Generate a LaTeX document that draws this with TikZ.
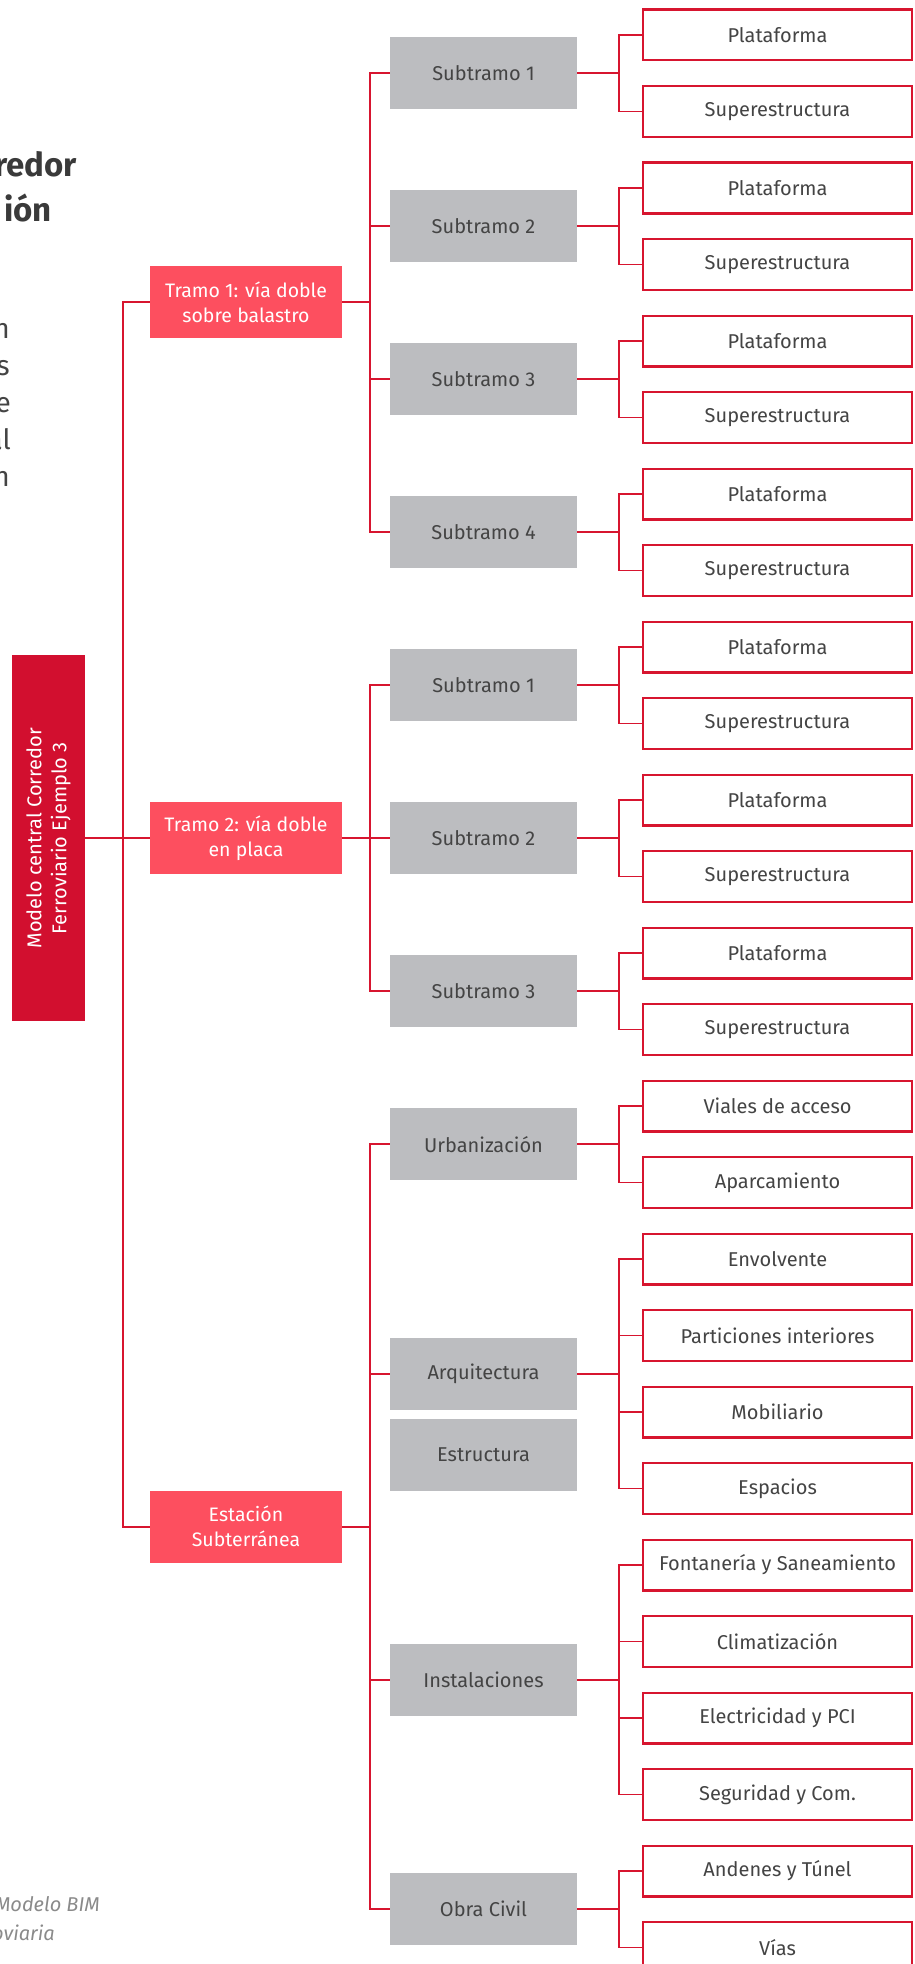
\documentclass[tikz,border=0pt]{standalone}
\usepackage{fontspec}
\setmainfont{Fira Sans}
\definecolor{rootred}{HTML}{D20F2F}
\definecolor{tramored}{HTML}{FD4F5F}
\definecolor{boxgray}{HTML}{BCBDC0}
\definecolor{linered}{HTML}{D7152F}
\definecolor{textgray}{HTML}{444444}
\definecolor{titlegray}{HTML}{3A3A3A}
\definecolor{notegray}{HTML}{8A8A8A}

\begin{document}
\begin{tikzpicture}[x=1pt, y=-1pt,
    base/.style={inner sep=0pt, align=center, font=\fontsize{20}{25}\selectfont},
    rootbox/.style={base, fill=rootred, text=white, minimum width=366pt, minimum height=73pt, rotate=90,
                    font=\fontsize{20}{25}\selectfont},
    tramo/.style={base, fill=tramored, text=white, minimum width=192pt, minimum height=72pt,
                  font=\fontsize{19.5}{25}\selectfont},
    sub/.style={base, fill=boxgray, text=textgray, minimum width=187pt, minimum height=72pt},
    leaf/.style={base, draw=linered, line width=2.4pt, fill=white, text=textgray,
                 minimum width=268.6pt, minimum height=50.6pt},
    link/.style={draw=linered, line width=1.8pt},
    frag/.style={inner sep=0pt, anchor=base east}
  ]
    \useasboundingbox (0,0) rectangle (914,1964);
    \clip (0,0) rectangle (914,1964);

    % Cut-off page text
    \node[frag, font=\fontsize{33}{40}\selectfont\bfseries, text=titlegray] (title1) at (77,177) {redor};
    \node[frag, font=\fontsize{33}{40}\selectfont\bfseries, text=titlegray] (title2) at (52,222) {ión};
    \node[frag, font=\fontsize{28}{34}\selectfont, text=textgray] (par1) at (10,338) {n};
    \node[frag, font=\fontsize{28}{34}\selectfont, text=textgray] (par2) at (10,375) {s};
    \node[frag, font=\fontsize{28}{34}\selectfont, text=textgray] (par3) at (11,412) {e};
    \node[frag, font=\fontsize{28}{34}\selectfont, text=textgray] (par4) at (11,449) {al};
    \node[frag, font=\fontsize{28}{34}\selectfont, text=textgray] (par5) at (10,486) {n};
    \node[frag, font=\fontsize{20}{24}\selectfont\itshape, text=notegray] (note1) at (100,1911) {Modelo BIM};
    \node[frag, font=\fontsize{20}{24}\selectfont\itshape, text=notegray] (note2) at (55,1940) {oviaria};

    % Root
    \node[rootbox] (root) at (48.5,838.25) {Modelo central Corredor\\Ferroviario Ejemplo 3};

    % Tramos
    \node[tramo] (t1) at (246,302) {Tramo 1: vía doble\\sobre balastro};
    \node[tramo] (t2) at (246,838.25) {Tramo 2: vía doble\\en placa};
    \node[tramo] (t3) at (246,1526.75) {Estación\\Subterránea};

    % Subtramos
    \node[sub] (s11) at (483.5,73.25) {Subtramo 1};
    \node[sub] (s12) at (483.5,226.25) {Subtramo 2};
    \node[sub] (s13) at (483.5,379.25) {Subtramo 3};
    \node[sub] (s14) at (483.5,532.25) {Subtramo 4};
    \node[sub] (s21) at (483.5,685.25) {Subtramo 1};
    \node[sub] (s22) at (483.5,838.25) {Subtramo 2};
    \node[sub] (s23) at (483.5,991.25) {Subtramo 3};

    % Station parts
    \node[sub] (urb) at (483.5,1144.25) {Urbanización};
    \node[sub] (arq) at (483.5,1373.75) {Arquitectura};
    \node[sub] (est) at (483.5,1455) {Estructura};
    \node[sub] (inst) at (483.5,1679.75) {Instalaciones};
    \node[sub] (obra) at (483.5,1909.25) {Obra Civil};

    % Leaves
    \node[leaf] (l1) at (777.5,35) {Plataforma};
    \node[leaf] (l2) at (777.5,111.5) {Superestructura};
    \node[leaf] (l3) at (777.5,188) {Plataforma};
    \node[leaf] (l4) at (777.5,264.5) {Superestructura};
    \node[leaf] (l5) at (777.5,341) {Plataforma};
    \node[leaf] (l6) at (777.5,417.5) {Superestructura};
    \node[leaf] (l7) at (777.5,494) {Plataforma};
    \node[leaf] (l8) at (777.5,570.5) {Superestructura};
    \node[leaf] (l9) at (777.5,647) {Plataforma};
    \node[leaf] (l10) at (777.5,723.5) {Superestructura};
    \node[leaf] (l11) at (777.5,800) {Plataforma};
    \node[leaf] (l12) at (777.5,876.5) {Superestructura};
    \node[leaf] (l13) at (777.5,953) {Plataforma};
    \node[leaf] (l14) at (777.5,1029.5) {Superestructura};
    \node[leaf] (l15) at (777.5,1106) {Viales de acceso};
    \node[leaf] (l16) at (777.5,1182.5) {Aparcamiento};
    \node[leaf] (l17) at (777.5,1259) {Envolvente};
    \node[leaf] (l18) at (777.5,1335.5) {Particiones interiores};
    \node[leaf] (l19) at (777.5,1412) {Mobiliario};
    \node[leaf] (l20) at (777.5,1488.5) {Espacios};
    \node[leaf] (l21) at (777.5,1565) {Fontanería y Saneamiento};
    \node[leaf] (l22) at (777.5,1641.5) {Climatización};
    \node[leaf] (l23) at (777.5,1718) {Electricidad y PCI};
    \node[leaf] (l24) at (777.5,1794.5) {Seguridad y Com.};
    \node[leaf] (l25) at (777.5,1871) {Andenes y Túnel};
    \node[leaf] (l26) at (777.5,1947.5) {Vías};

    % Root links
    \draw[link] (root.south) -- ++(38,0) |- (t1.west);
    \draw[link] (root.south) -- (t2.west);
    \draw[link] (root.south) -- ++(38,0) |- (t3.west);

    % Tramo links
    \draw[link] (t1.east) -- ++(28,0) |- (s11.west);
    \draw[link] (t1.east) -- ++(28,0) |- (s12.west);
    \draw[link] (t1.east) -- ++(28,0) |- (s13.west);
    \draw[link] (t1.east) -- ++(28,0) |- (s14.west);
    \draw[link] (t2.east) -- ++(28,0) |- (s21.west);
    \draw[link] (t2.east) -- (s22.west);
    \draw[link] (t2.east) -- ++(28,0) |- (s23.west);
    \draw[link] (t3.east) -- ++(28,0) |- (urb.west);
    \draw[link] (t3.east) -- ++(28,0) |- (arq.west);
    \draw[link] (t3.east) -- ++(28,0) |- (inst.west);
    \draw[link] (t3.east) -- ++(28,0) |- (obra.west);

    % Leaf links
    \draw[link] (s11.east) -- ++(42,0) |- (l1.west);
    \draw[link] (s11.east) -- ++(42,0) |- (l2.west);
    \draw[link] (s12.east) -- ++(42,0) |- (l3.west);
    \draw[link] (s12.east) -- ++(42,0) |- (l4.west);
    \draw[link] (s13.east) -- ++(42,0) |- (l5.west);
    \draw[link] (s13.east) -- ++(42,0) |- (l6.west);
    \draw[link] (s14.east) -- ++(42,0) |- (l7.west);
    \draw[link] (s14.east) -- ++(42,0) |- (l8.west);
    \draw[link] (s21.east) -- ++(42,0) |- (l9.west);
    \draw[link] (s21.east) -- ++(42,0) |- (l10.west);
    \draw[link] (s22.east) -- ++(42,0) |- (l11.west);
    \draw[link] (s22.east) -- ++(42,0) |- (l12.west);
    \draw[link] (s23.east) -- ++(42,0) |- (l13.west);
    \draw[link] (s23.east) -- ++(42,0) |- (l14.west);
    \draw[link] (urb.east) -- ++(42,0) |- (l15.west);
    \draw[link] (urb.east) -- ++(42,0) |- (l16.west);
    \draw[link] (arq.east) -- ++(42,0) |- (l17.west);
    \draw[link] (arq.east) -- ++(42,0) |- (l18.west);
    \draw[link] (arq.east) -- ++(42,0) |- (l19.west);
    \draw[link] (arq.east) -- ++(42,0) |- (l20.west);
    \draw[link] (inst.east) -- ++(42,0) |- (l21.west);
    \draw[link] (inst.east) -- ++(42,0) |- (l22.west);
    \draw[link] (inst.east) -- ++(42,0) |- (l23.west);
    \draw[link] (inst.east) -- ++(42,0) |- (l24.west);
    \draw[link] (obra.east) -- ++(42,0) |- (l25.west);
    \draw[link] (obra.east) -- ++(42,0) |- (l26.west);
  \end{tikzpicture}
\end{document}
